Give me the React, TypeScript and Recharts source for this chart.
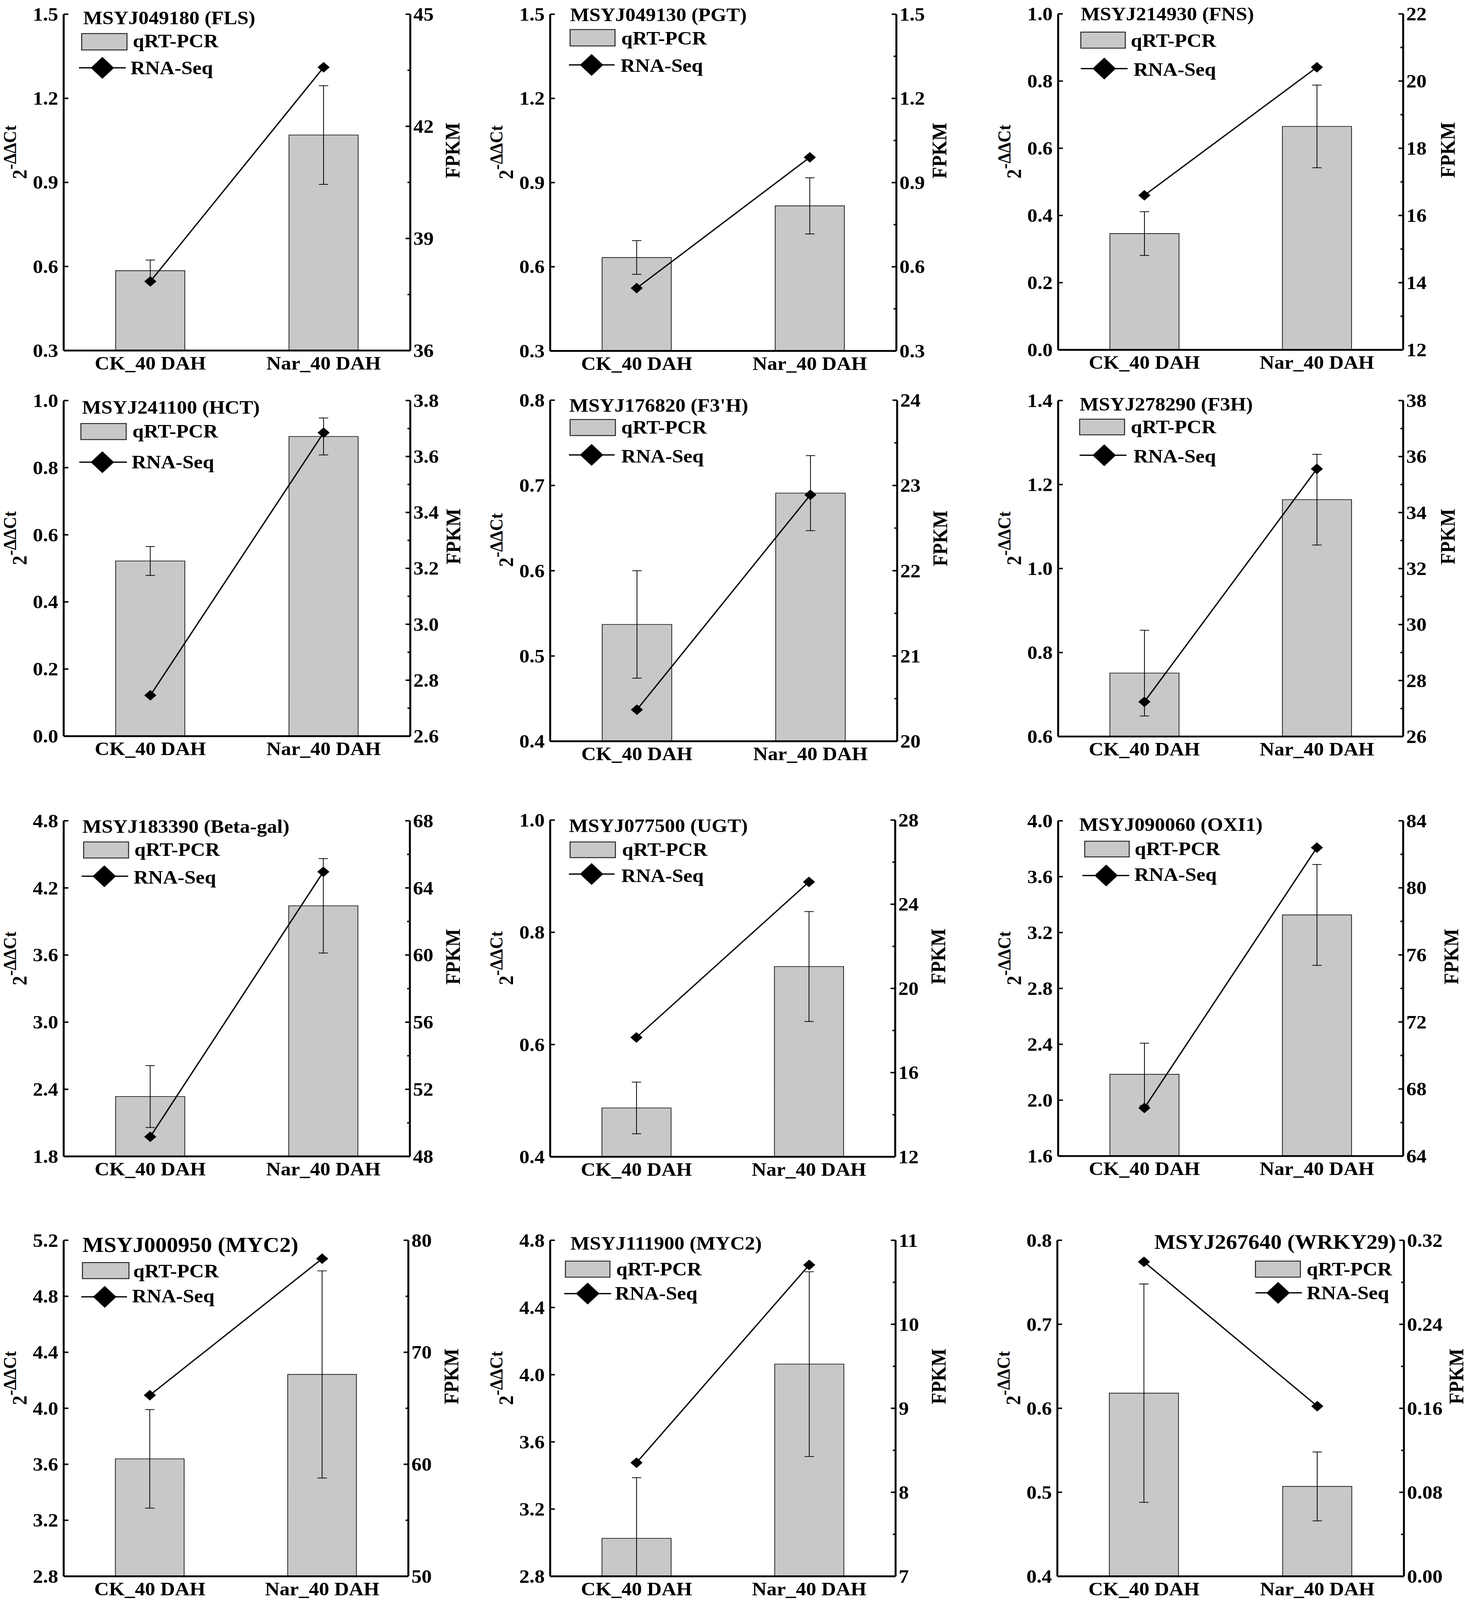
import React from 'react';
import { ComposedChart, Bar, Line, XAxis, YAxis, ErrorBar, Legend } from 'recharts';

const FONT = '"Liberation Serif", "Times New Roman", Times, serif';

// ---------------- data ----------------
const categories = ['CK_40 DAH', 'Nar_40 DAH'];

const geneTitles = [
  'MSYJ049180 (FLS)',
  'MSYJ049130 (PGT)',
  'MSYJ214930 (FNS)',
  'MSYJ241100 (HCT)',
  "MSYJ176820 (F3'H)",
  'MSYJ278290 (F3H)',
  'MSYJ183390 (Beta-gal)',
  'MSYJ077500 (UGT)',
  'MSYJ090060 (OXI1)',
  'MSYJ000950 (MYC2)',
  'MSYJ111900 (MYC2)',
  'MSYJ267640 (WRKY29)',
];

// qRT-PCR (2^-ΔΔCt) means for [CK, Nar]
const qpcrMeans = [
  [0.585, 1.069],
  [0.633, 0.817],
  [0.346, 0.665],
  [0.522, 0.893],
  [0.537, 0.691],
  [0.751, 1.164],
  [2.335, 4.04],
  [0.487, 0.739],
  [2.185, 3.326],
  [3.639, 4.242],
  [3.026, 4.063],
  [0.618, 0.507],
];

// qRT-PCR error (±)
const qpcrErrors = [
  [0.038, 0.176],
  [0.06, 0.1],
  [0.065, 0.123],
  [0.043, 0.055],
  [0.063, 0.044],
  [0.102, 0.108],
  [0.277, 0.422],
  [0.046, 0.098],
  [0.223, 0.361],
  [0.352, 0.74],
  [0.361, 0.55],
  [0.13, 0.041],
];

// RNA-Seq FPKM for [CK, Nar]
const fpkmValues = [
  [37.85, 43.58],
  [0.524, 0.99],
  [16.6, 20.41],
  [2.746, 3.685],
  [20.37, 22.89],
  [27.24, 35.56],
  [49.17, 64.96],
  [17.67, 25.06],
  [66.87, 82.4],
  [66.17, 78.36],
  [8.352, 10.707],
  [0.2995, 0.162],
];

const leftTicks = [
  [0.3, 0.6, 0.9, 1.2, 1.5],
  [0.3, 0.6, 0.9, 1.2, 1.5],
  [0, 0.2, 0.4, 0.6, 0.8, 1.0],
  [0, 0.2, 0.4, 0.6, 0.8, 1.0],
  [0.4, 0.5, 0.6, 0.7, 0.8],
  [0.6, 0.8, 1.0, 1.2, 1.4],
  [1.8, 2.4, 3.0, 3.6, 4.2, 4.8],
  [0.4, 0.6, 0.8, 1.0],
  [1.6, 2.0, 2.4, 2.8, 3.2, 3.6, 4.0],
  [2.8, 3.2, 3.6, 4.0, 4.4, 4.8, 5.2],
  [2.8, 3.2, 3.6, 4.0, 4.4, 4.8],
  [0.4, 0.5, 0.6, 0.7, 0.8],
];

const rightTicks = [
  [36, 39, 42, 45],
  [0.3, 0.6, 0.9, 1.2, 1.5],
  [12, 14, 16, 18, 20, 22],
  [2.6, 2.8, 3.0, 3.2, 3.4, 3.6, 3.8],
  [20, 21, 22, 23, 24],
  [26, 28, 30, 32, 34, 36, 38],
  [48, 52, 56, 60, 64, 68],
  [12, 16, 20, 24, 28],
  [64, 68, 72, 76, 80, 84],
  [50, 60, 70, 80],
  [7, 8, 9, 10, 11],
  [0, 0.08, 0.16, 0.24, 0.32],
];

const leftDecimals = [1, 1, 1, 1, 1, 1, 1, 1, 1, 1, 1, 1];
const rightDecimals = [0, 1, 0, 1, 0, 0, 0, 0, 0, 0, 0, 2];

// ---------------- layout (plot rectangles, px) ----------------
const FIG_W = 3780;
const FIG_H = 4386;

const panelBoxes = [
  { L: 163, T: 39, W: 887, H: 922 },
  { L: 1408, T: 39, W: 886, H: 923 },
  { L: 2708, T: 38, W: 883, H: 921 },
  { L: 163, T: 1098, W: 887, H: 920 },
  { L: 1408, T: 1097, W: 888, H: 935 },
  { L: 2708, T: 1098, W: 883, H: 921 },
  { L: 163, T: 2250, W: 886, H: 920 },
  { L: 1408, T: 2248, W: 883, H: 923 },
  { L: 2708, T: 2250, W: 883, H: 919 },
  { L: 163, T: 3400, W: 882, H: 921 },
  { L: 1408, T: 3400, W: 884, H: 921 },
  { L: 2706, T: 3400, W: 887, H: 921 },
];

// distance from the right axis to the FPKM label baseline
const fpkmLabelOffsets = [126, 128, 132, 128, 128, 132, 128, 128, 141, 128, 128, 152];

// legend / title placement relative to plot origin
const legendLayouts: any[] = [
  { tX: 50, tY: 27, tS: 52, rX: 46, rY: 53, rW: 116, rH: 45, qX: 177, qY: 91, l1: 39, l2: 159, lY: 147, dX: 99, sX: 171, sY: 164 },
  { tX: 51, tY: 19, tS: 52, rX: 51, rY: 42, rW: 115, rH: 45, qX: 182, qY: 83, l1: 48, l2: 165, lY: 139, dX: 106, sX: 180, sY: 158 },
  { tX: 58, tY: 18, tS: 52, rX: 58, rY: 50, rW: 114, rH: 44, qX: 186, qY: 90, l1: 58, l2: 178, lY: 150, dX: 118, sX: 193, sY: 170 },
  { tX: 47, tY: 36, tS: 52, rX: 44, rY: 63, rW: 116, rH: 44, qX: 176, qY: 101, l1: 40, l2: 162, lY: 169, dX: 99, sX: 174, sY: 186 },
  { tX: 49, tY: 32, tS: 52, rX: 51, rY: 53, rW: 116, rH: 44, qX: 182, qY: 92, l1: 48, l2: 165, lY: 150, dX: 106, sX: 182, sY: 171 },
  { tX: 55, tY: 27, tS: 52, rX: 55, rY: 51, rW: 115, rH: 43, qX: 186, qY: 90, l1: 55, l2: 175, lY: 150, dX: 118, sX: 193, sY: 170 },
  { tX: 48, tY: 33, tS: 52, rX: 51, rY: 58, rW: 115, rH: 44, qX: 181, qY: 96, l1: 46, l2: 165, lY: 152, dX: 104, sX: 179, sY: 172 },
  { tX: 48, tY: 33, tS: 52, rX: 51, rY: 60, rW: 116, rH: 43, qX: 184, qY: 98, l1: 48, l2: 165, lY: 148, dX: 106, sX: 182, sY: 170 },
  { tX: 54, tY: 28, tS: 52, rX: 68, rY: 56, rW: 114, rH: 43, qX: 196, qY: 94, l1: 62, l2: 182, lY: 150, dX: 123, sX: 195, sY: 165 },
  { tX: 48, tY: 32, tS: 58, rX: 48, rY: 61, rW: 119, rH: 44, qX: 178, qY: 101, l1: 45, l2: 162, lY: 155, dX: 105, sX: 175, sY: 170 },
  { tX: 52, tY: 25, tS: 52, rX: 39, rY: 57, rW: 114, rH: 44, qX: 169, qY: 96, l1: 36, l2: 156, lY: 146, dX: 96, sX: 166, sY: 163 },
  { tX: 867, tY: 23, tS: 57, tEnd: true, rX: 507, rY: 57, rW: 115, rH: 44, qX: 638, qY: 96, l1: 507, l2: 626, lY: 144, dX: 565, sX: 638, sY: 162 },
];

const PAD_L = 230;
const PAD_R = 230;
const PAD_T = 80;
const PAD_B = 110;
const FS = 52;

function withMinor(majors: number[]): { v: number; major: boolean }[] {
  const out: { v: number; major: boolean }[] = [];
  majors.forEach((m, k) => {
    out.push({ v: m, major: true });
    if (k < majors.length - 1) out.push({ v: (m + majors[k + 1]) / 2, major: false });
  });
  return out;
}

const Diamond = (props: any) => {
  const { cx, cy, index } = props;
  if (cx == null || cy == null) return <g key={`d-${index}`} />;
  return (
    <polygon
      key={`d-${index}`}
      points={`${cx},${cy - 14} ${cx + 15},${cy} ${cx},${cy + 14} ${cx - 15},${cy}`}
      fill="#000"
      stroke="#000"
      strokeWidth={1}
    />
  );
};

function Panel({ i }: { i: number }) {
  const box = panelBoxes[i];
  const lay = legendLayouts[i];
  const chartW = box.W + PAD_L + PAD_R;
  const chartH = box.H + PAD_T + PAD_B;
  const lt = leftTicks[i];
  const rt = rightTicks[i];
  const axisMin = lt[0];
  const data = categories.map((c, k) => {
    const m = qpcrMeans[i][k];
    const e = qpcrErrors[i][k];
    // error whiskers are clipped at the bottom of the plot area
    return { name: c, qpcr: m, err: [Math.min(e, m - axisMin), e], fpkm: fpkmValues[i][k] };
  });
  const rValues = withMinor(rt).map((t) => t.v);
  const leftX = PAD_L;
  const rightX = PAD_L + box.W;

  const LeftTick = (p: any) => (
    <g>
      <line x1={leftX} x2={leftX + 12} y1={p.y} y2={p.y} stroke="#000" strokeWidth={4} />
      <text
        x={leftX - 14}
        y={p.y}
        dy="0.34em"
        textAnchor="end"
        fontFamily={FONT}
        fontWeight="bold"
        fontSize={FS}
        fill="#000"
      >
        {Number(p.payload.value).toFixed(leftDecimals[i])}
      </text>
    </g>
  );

  const RightTick = (p: any) => {
    const val = Number(p.payload.value);
    const major = rt.some((m) => Math.abs(m - val) < 1e-9);
    return (
      <g>
        <line x1={rightX} x2={rightX - (major ? 12 : 7)} y1={p.y} y2={p.y} stroke="#000" strokeWidth={4} />
        {major ? (
          <text
            x={rightX + 8}
            y={p.y}
            dy="0.34em"
            textAnchor="start"
            fontFamily={FONT}
            fontWeight="bold"
            fontSize={FS}
            fill="#000"
          >
            {val.toFixed(rightDecimals[i])}
          </text>
        ) : null}
      </g>
    );
  };

  const leftLabel = () => {
    const bx = PAD_L - 95;
    const cy = PAD_T + 0.41 * box.H;
    return (
      <text
        transform={`rotate(-90 ${bx} ${cy})`}
        x={bx}
        y={cy}
        textAnchor="middle"
        fontFamily={FONT}
        fontWeight="bold"
        fill="#000"
      >
        <tspan fontSize={52}>2</tspan>
        <tspan fontSize={46} dy={-27}>-ΔΔCt</tspan>
      </text>
    );
  };

  const rightLabel = () => {
    const bx = rightX + fpkmLabelOffsets[i];
    const cy = PAD_T + 0.405 * box.H;
    return (
      <text
        transform={`rotate(-90 ${bx} ${cy})`}
        x={bx}
        y={cy}
        textAnchor="middle"
        fontFamily={FONT}
        fontWeight="bold"
        fontSize={FS}
        fill="#000"
      >
        FPKM
      </text>
    );
  };

  const legendContent = () => {
    const ox = PAD_L;
    const oy = PAD_T;
    const d = 30;
    const cx = ox + lay.dX;
    const cy = oy + lay.lY;
    return (
      <svg width={chartW} height={chartH} style={{ overflow: 'visible', display: 'block' }}>
        <text
          x={ox + lay.tX}
          y={oy + lay.tY}
          textAnchor={lay.tEnd ? 'end' : 'start'}
          fontFamily={FONT}
          fontWeight="bold"
          fontSize={lay.tS}
          fill="#000"
        >
          {geneTitles[i]}
        </text>
        <rect
          x={ox + lay.rX}
          y={oy + lay.rY}
          width={lay.rW}
          height={lay.rH}
          fill="#c8c8c8"
          stroke="#222"
          strokeWidth={2.5}
        />
        <text x={ox + lay.qX} y={oy + lay.qY} fontFamily={FONT} fontWeight="bold" fontSize={FS} fill="#000">
          qRT-PCR
        </text>
        <line x1={ox + lay.l1} x2={ox + lay.l2} y1={cy} y2={cy} stroke="#000" strokeWidth={3.5} />
        <polygon points={`${cx},${cy - d} ${cx + d},${cy} ${cx},${cy + d} ${cx - d},${cy}`} fill="#000" />
        <text x={ox + lay.sX} y={oy + lay.sY} fontFamily={FONT} fontWeight="bold" fontSize={FS} fill="#000">
          RNA-Seq
        </text>
      </svg>
    );
  };

  return (
    <div style={{ position: 'absolute', left: box.L - PAD_L, top: box.T - PAD_T }}>
      <ComposedChart
        width={chartW}
        height={chartH}
        data={data}
        margin={{ top: PAD_T, right: 0, bottom: 0, left: 0 }}
        barCategoryGap="30%"
      >
        <XAxis
          dataKey="name"
          height={PAD_B}
          tickLine={false}
          tickSize={0}
          tickMargin={15}
          interval={0}
          axisLine={{ stroke: '#000', strokeWidth: 5 }}
          tick={{ fontFamily: FONT, fontWeight: 'bold', fontSize: FS, fill: '#000' }}
        />
        <YAxis
          yAxisId="left"
          orientation="left"
          width={PAD_L}
          type="number"
          domain={[lt[0], lt[lt.length - 1]]}
          ticks={lt}
          allowDataOverflow
          interval={0}
          tickSize={0}
          tickMargin={14}
          tickLine={false}
          axisLine={{ stroke: '#000', strokeWidth: 5 }}
          tick={LeftTick}
          label={{ content: leftLabel }}
        />
        <YAxis
          yAxisId="right"
          orientation="right"
          width={PAD_R}
          type="number"
          domain={[rt[0], rt[rt.length - 1]]}
          ticks={rValues}
          allowDataOverflow
          interval={0}
          tickSize={0}
          tickMargin={8}
          tickLine={false}
          axisLine={{ stroke: '#000', strokeWidth: 5 }}
          tick={RightTick}
          label={{ content: rightLabel }}
        />
        <Bar
          yAxisId="left"
          dataKey="qpcr"
          name="qRT-PCR"
          fill="#c8c8c8"
          stroke="#222"
          strokeWidth={2}
          isAnimationActive={false}
        >
          <ErrorBar dataKey="err" width={12} stroke="#000" strokeWidth={2} direction="y" />
        </Bar>
        <Line
          yAxisId="right"
          type="linear"
          dataKey="fpkm"
          name="RNA-Seq"
          stroke="#000"
          strokeWidth={3.5}
          dot={Diamond}
          activeDot={false}
          isAnimationActive={false}
        />
        <Legend
          layout="horizontal"
          verticalAlign="middle"
          align="center"
          content={legendContent}
          wrapperStyle={{ position: 'absolute', left: 0, top: 0, width: chartW, height: chartH, pointerEvents: 'none' }}
        />
      </ComposedChart>
    </div>
  );
}

export default function App() {
  // The visible viewport may be shorter than the requested figure height;
  // fit the whole figure vertically so nothing is cut off.
  const vh = typeof window !== 'undefined' && window.innerHeight ? window.innerHeight : FIG_H;
  const k = Math.min(1, vh / FIG_H);
  return (
    <div
      style={{
        position: 'absolute',
        left: 0,
        top: 0,
        width: FIG_W,
        height: Math.floor(FIG_H * k),
        background: '#fff',
        overflow: 'hidden',
      }}
    >
      <div
        style={{
          position: 'absolute',
          left: 0,
          top: 0,
          width: FIG_W,
          height: FIG_H,
          transform: `scale(1, ${k})`,
          transformOrigin: '0 0',
        }}
      >
        {panelBoxes.map((_, i) => (
          <Panel key={i} i={i} />
        ))}
      </div>
    </div>
  );
}
